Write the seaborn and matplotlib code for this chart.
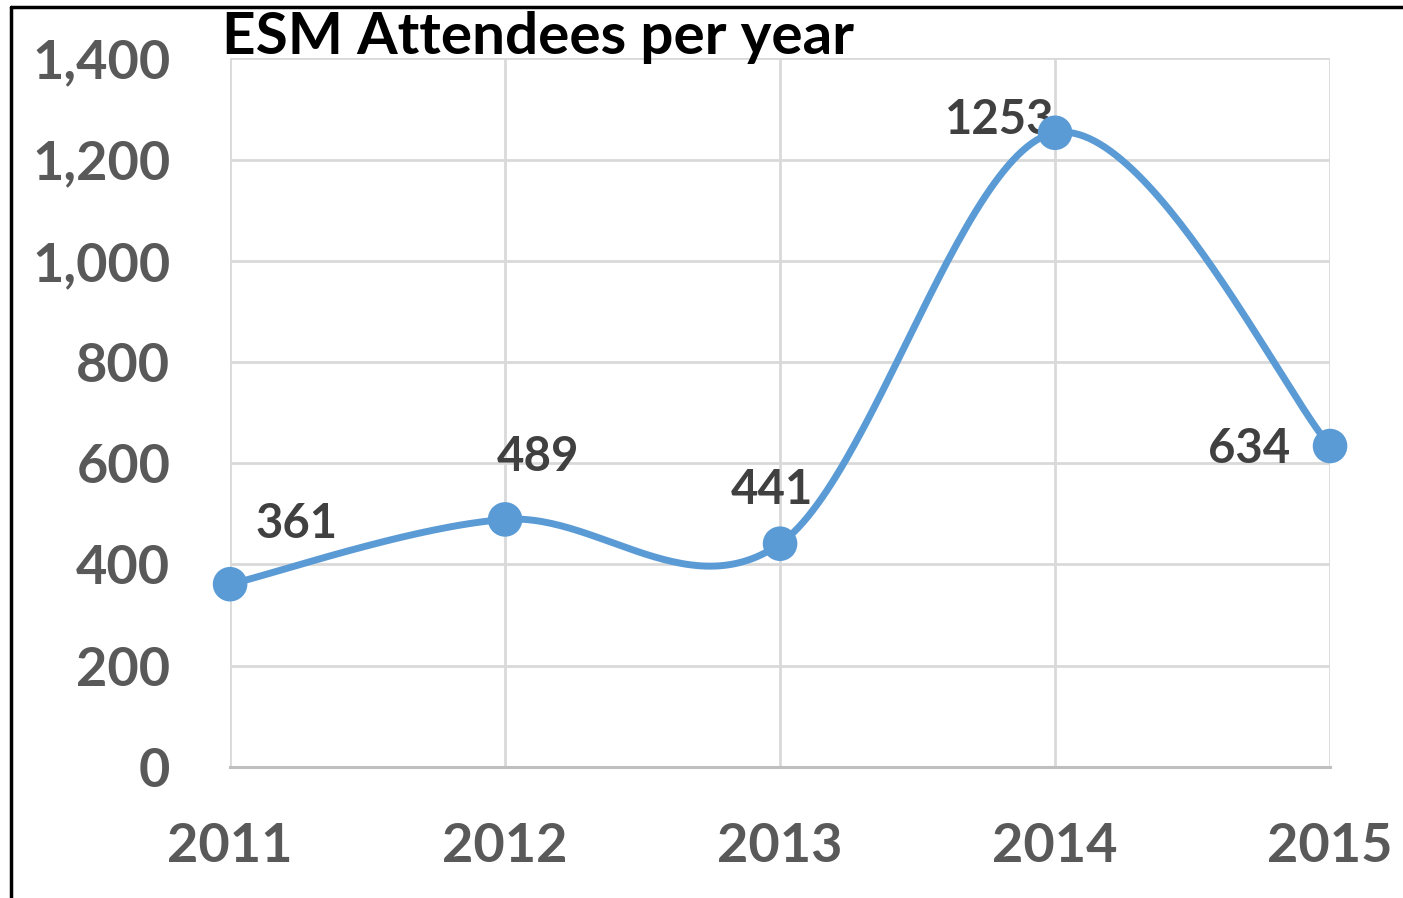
import numpy as np
import pandas as pd
import seaborn as sns
import matplotlib.pyplot as plt
from matplotlib.lines import Line2D

years = ['2011', '2012', '2013', '2014', '2015']
attendees = [361, 489, 441, 1253, 634]
y_ticks = [0, 200, 400, 600, 800, 1000, 1200, 1400]
title = 'ESM Attendees per year'

# label offsets in points (dx, dy) like the Excel data labels
label_offsets = [(48, 43), (24, 45), (-6, 39), (-40, 9), (-58, -2)]

line_color = '#5B9BD5'
tick_color = '#595959'
label_color = '#404040'
grid_color = '#D9D9D9'

sns.set_style('white')
plt.rcParams['font.family'] = ['Lato', 'DejaVu Sans']

df = pd.DataFrame({'x': np.arange(len(years)), 'y': attendees})


# smoothed line like Excel (Catmull-Rom through the points)
def smooth(x, y, n=60):
    x = np.asarray(x, float)
    y = np.asarray(y, float)
    px = np.concatenate([[x[0]], x, [x[-1]]])
    py = np.concatenate([[y[0]], y, [y[-1]]])
    xs, ys = [], []
    t = np.linspace(0, 1, n)
    h00 = 2 * t**3 - 3 * t**2 + 1
    h10 = t**3 - 2 * t**2 + t
    h01 = -2 * t**3 + 3 * t**2
    h11 = t**3 - t**2
    for i in range(1, len(x)):
        mx0 = (px[i + 1] - px[i - 1]) / 2
        mx1 = (px[i + 2] - px[i]) / 2
        my0 = (py[i + 1] - py[i - 1]) / 2
        my1 = (py[i + 2] - py[i]) / 2
        xs.append(h00 * px[i] + h10 * mx0 + h01 * px[i + 1] + h11 * mx1)
        ys.append(h00 * py[i] + h10 * my0 + h01 * py[i + 1] + h11 * my1)
    return np.concatenate(xs), np.concatenate(ys)


fig = plt.figure(figsize=(14.03, 8.98), dpi=100)
ax = fig.add_axes([0.164, 0.146, 0.784, 0.789])

sx, sy = smooth(df['x'], df['y'])
sns.lineplot(x=sx, y=sy, sort=False, color=line_color, lw=5, ax=ax, zorder=3)
sns.scatterplot(data=df, x='x', y='y', color=line_color, s=620, edgecolor='none',
                ax=ax, zorder=4, clip_on=False)

for i, v in enumerate(attendees):
    dx, dy = label_offsets[i]
    ax.annotate(str(v), (i, v), xytext=(dx, dy), textcoords='offset points',
                ha='center', va='center', fontsize=34, fontweight='bold',
                color=label_color, zorder=2)

ax.set_xlim(0, len(years) - 1)
ax.set_ylim(0, 1400)
ax.set_xticks(range(len(years)))
ax.set_xticklabels(years)
ax.set_yticks(y_ticks)
ax.set_yticklabels([f'{t:,}' for t in y_ticks])
ax.tick_params(axis='both', length=0, labelsize=39, labelcolor=tick_color)
ax.tick_params(axis='x', pad=40)
ax.tick_params(axis='y', pad=43)
for lab in ax.get_xticklabels() + ax.get_yticklabels():
    lab.set_fontweight('bold')

ax.grid(True, color=grid_color, lw=2)
ax.set_axisbelow(True)
for s in ['top', 'right', 'left']:
    ax.spines[s].set_visible(False)
ax.spines['bottom'].set_color('#BFBFBF')
ax.spines['bottom'].set_linewidth(2.2)
ax.set_xlabel('')
ax.set_ylabel('')

fig.text(0.158, 0.958, title, fontsize=42, fontweight='bold', color='black',
         ha='left', va='center')

# frame lines on the left and top of the picture
fig.add_artist(Line2D([0.0075, 0.0075], [0, 0.992], transform=fig.transFigure, color='black', lw=2.5))
fig.add_artist(Line2D([0.0075, 1], [0.992, 0.992], transform=fig.transFigure, color='black', lw=2.5))

plt.savefig('out.png', dpi=100)
